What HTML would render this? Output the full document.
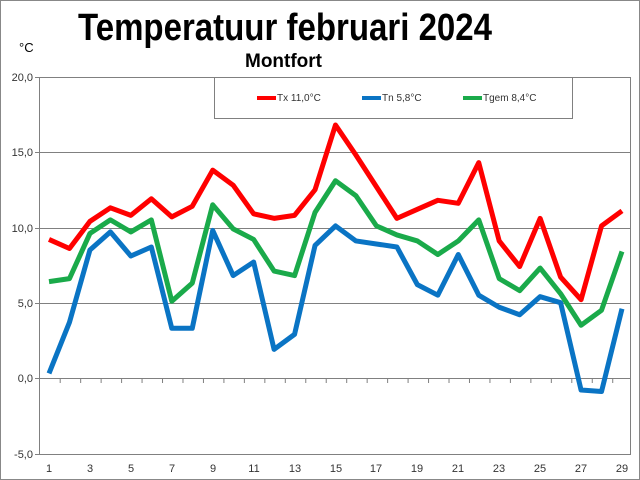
<!DOCTYPE html>
<html><head><meta charset="utf-8"><style>body{margin:0;background:#fff}svg{display:block}</style></head><body>
<svg width="640" height="480" xmlns="http://www.w3.org/2000/svg" font-family="Liberation Sans, sans-serif">
<rect x="0.5" y="0.5" width="639" height="479" fill="#fff" stroke="#888"/>
<text x="78" y="40" font-size="38" font-weight="bold" textLength="414" lengthAdjust="spacingAndGlyphs">Temperatuur februari 2024</text>
<text x="19" y="52" font-size="13">°C</text>
<text x="245" y="67" font-size="19" font-weight="bold" textLength="77" lengthAdjust="spacingAndGlyphs">Montfort</text>
<g stroke="#808080" stroke-width="1">
<line x1="39" y1="77.5" x2="630" y2="77.5"/>
<line x1="39" y1="152.5" x2="630" y2="152.5"/>
<line x1="39" y1="228.5" x2="630" y2="228.5"/>
<line x1="39" y1="303.5" x2="630" y2="303.5"/>
<line x1="39" y1="378.5" x2="630" y2="378.5"/>
<line x1="39" y1="454.5" x2="630" y2="454.5"/>
<line x1="39.5" y1="77" x2="39.5" y2="455"/>
<line x1="630.5" y1="77" x2="630.5" y2="455"/>
<line x1="35" y1="77.5" x2="39" y2="77.5"/><line x1="35" y1="152.5" x2="39" y2="152.5"/><line x1="35" y1="228.5" x2="39" y2="228.5"/><line x1="35" y1="303.5" x2="39" y2="303.5"/><line x1="35" y1="378.5" x2="39" y2="378.5"/><line x1="35" y1="454.5" x2="39" y2="454.5"/>
</g>
<g stroke="#808080" stroke-width="1" stroke-dasharray="1 19.464" stroke-dashoffset="0">
<line x1="59.7" y1="381" x2="630" y2="381" stroke-width="4"/>
</g>
<g font-size="11" fill="#333" text-anchor="end">
<text x="33" y="81">20,0</text><text x="33" y="156">15,0</text><text x="33" y="232">10,0</text><text x="33" y="307">5,0</text><text x="33" y="382">0,0</text><text x="33" y="458">-5,0</text>
</g>
<g font-size="11" fill="#333" text-anchor="middle">
<text x="49" y="472">1</text><text x="90" y="472">3</text><text x="131" y="472">5</text><text x="172" y="472">7</text><text x="213" y="472">9</text><text x="254" y="472">11</text><text x="295" y="472">13</text><text x="336" y="472">15</text><text x="376" y="472">17</text><text x="417" y="472">19</text><text x="458" y="472">21</text><text x="499" y="472">23</text><text x="540" y="472">25</text><text x="581" y="472">27</text><text x="622" y="472">29</text>
</g>
<rect x="214.5" y="77.5" width="358" height="41" fill="#fff" stroke="#808080"/>
<g font-size="10" fill="#333">
<line x1="257" y1="98" x2="276" y2="98" stroke="#f00" stroke-width="4"/><text x="277" y="101">Tx 11,0°C</text>
<line x1="362" y1="98" x2="381" y2="98" stroke="#0a74c4" stroke-width="4"/><text x="382" y="101">Tn 5,8°C</text>
<line x1="463" y1="98" x2="482" y2="98" stroke="#1aaa4a" stroke-width="4"/><text x="483" y="101">Tgem 8,4°C</text>
</g>
<g transform="translate(28.536,378) scale(20.464,-15.06)" fill="none" stroke-linejoin="round">
<polyline vector-effect="non-scaling-stroke" stroke="#0a74c4" stroke-width="5" points="1,0.3 2,3.7 3,8.5 4,9.7 5,8.1 6,8.7 7,3.3 8,3.3 9,9.8 10,6.8 11,7.7 12,1.9 13,2.9 14,8.8 15,10.1 16,9.1 17,8.9 18,8.7 19,6.2 20,5.5 21,8.2 22,5.5 23,4.7 24,4.2 25,5.4 26,5.0 27,-0.8 28,-0.9 29,4.6"/>
<polyline vector-effect="non-scaling-stroke" stroke="#1aaa4a" stroke-width="5" points="1,6.4 2,6.6 3,9.6 4,10.5 5,9.7 6,10.5 7,5.1 8,6.3 9,11.5 10,9.9 11,9.2 12,7.1 13,6.8 14,11.0 15,13.1 16,12.1 17,10.1 18,9.5 19,9.1 20,8.2 21,9.1 22,10.5 23,6.6 24,5.8 25,7.3 26,5.6 27,3.5 28,4.5 29,8.4"/>
<polyline vector-effect="non-scaling-stroke" stroke="#f00" stroke-width="5" points="1,9.2 2,8.6 3,10.4 4,11.3 5,10.8 6,11.9 7,10.7 8,11.4 9,13.8 10,12.8 11,10.9 12,10.6 13,10.8 14,12.5 15,16.8 16,14.8 17,12.7 18,10.6 19,11.2 20,11.8 21,11.6 22,14.3 23,9.1 24,7.4 25,10.6 26,6.7 27,5.2 28,10.1 29,11.1"/>
</g>
</svg>
</body></html>
